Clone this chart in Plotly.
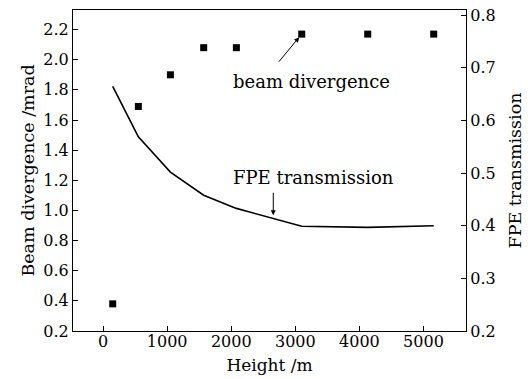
import plotly.graph_objects as go

heights = [150, 550, 1050, 1570, 2080, 3100, 4130, 5160]
beam_divergence = [0.38, 1.69, 1.90, 2.08, 2.08, 2.17, 2.17, 2.17]
fpe_transmission = [0.665, 0.569, 0.502, 0.458, 0.433, 0.399, 0.397, 0.400]

x_ticks = [0, 1000, 2000, 3000, 4000, 5000]
y_ticks = [0.2, 0.4, 0.6, 0.8, 1.0, 1.2, 1.4, 1.6, 1.8, 2.0, 2.2]
y2_ticks = [0.2, 0.3, 0.4, 0.5, 0.6, 0.7, 0.8]

FONT = "DejaVu Serif"

fig = go.Figure()
fig.add_trace(go.Scatter(
    x=heights, y=beam_divergence, mode="markers",
    marker=dict(symbol="square", size=7, color="black"),
    yaxis="y", showlegend=False))
fig.add_trace(go.Scatter(
    x=heights, y=fpe_transmission, mode="lines",
    line=dict(color="black", width=1.6),
    yaxis="y2", showlegend=False))

axis_common = dict(
    showgrid=False, zeroline=False, showline=True, linecolor="black",
    linewidth=1.2, ticks="inside", ticklen=5, tickcolor="black", tickwidth=1,
    tickfont=dict(family=FONT, size=16, color="black"), automargin=False,
)

fig.update_layout(
    width=528, height=379,
    margin=dict(l=73, r=62, t=10, b=48),
    paper_bgcolor="white", plot_bgcolor="white",
    font=dict(family=FONT, color="black"),
    xaxis=dict(**axis_common, range=[-470, 5664], tickvals=x_ticks,
               mirror=True, ticklabelstandoff=-4,
               title=dict(text="Height /m", font=dict(family=FONT, size=17, color="black"),
                          standoff=8)),
    yaxis=dict(**axis_common, range=[0.2, 2.33], tickvals=y_ticks,
               tickformat=".1f",
               title=dict(text="Beam divergence /mrad",
                          font=dict(family=FONT, size=17.5, color="black"), standoff=4)),
    yaxis2=dict(**axis_common, range=[0.2, 0.81], tickvals=y2_ticks,
                tickformat=".1f", overlaying="y", side="right",
                title=dict(text="FPE transmission",
                           font=dict(family=FONT, size=17.5, color="black"), standoff=13)),
)

# arrow to beam divergence point
fig.add_annotation(x=heights[5], y=beam_divergence[5], xref="x", yref="y",
                   text="", showarrow=True, arrowhead=2, arrowsize=1,
                   arrowwidth=1, arrowcolor="black", ax=-24, ay=29,
                   standoff=4)
fig.add_annotation(x=0.608, y=0.816, xref="paper", yref="paper",
                   text="beam divergence", showarrow=False,
                   font=dict(family=FONT, size=18, color="black"))
# arrow to FPE transmission line
fig.add_annotation(x=2656, y=0.42, xref="x", yref="y2",
                   text="", showarrow=True, arrowhead=2, arrowsize=1,
                   arrowwidth=1, arrowcolor="black", ax=0, ay=-24)
fig.add_annotation(x=0.613, y=0.477, xref="paper", yref="paper",
                   text="FPE transmission", showarrow=False,
                   font=dict(family=FONT, size=18, color="black"))

fig.write_html("out.html")
